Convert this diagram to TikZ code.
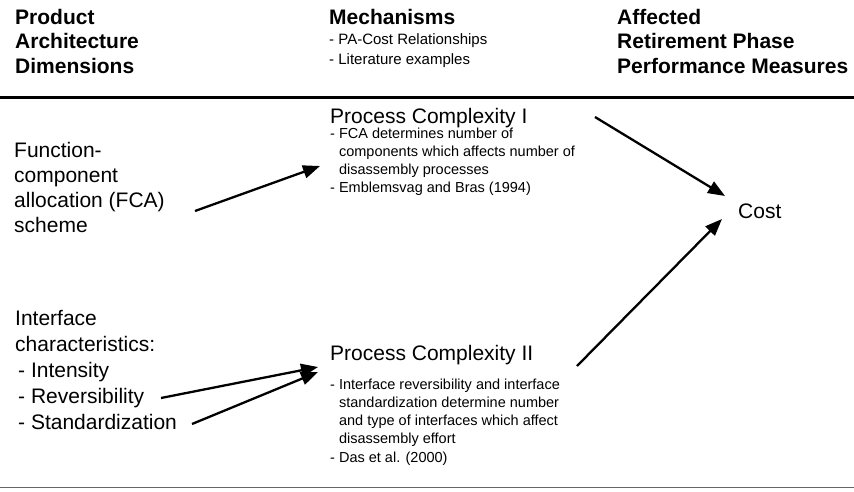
\documentclass[tikz,border=0pt]{standalone}
\usepackage{fontspec}
\setmainfont{Liberation Sans}
\usetikzlibrary{arrows.meta}

% multi-line text block whose reference point is the first baseline
\newcommand{\txtblock}[3]{\fontsize{#1}{#2}\selectfont\begin{tabular}[t]{@{}l@{}}#3\end{tabular}}
\newcommand{\hang}{\hphantom{- }}

\tikzset{
  head/.style={anchor=base west, inner sep=0pt, font=\bfseries},
  body/.style={anchor=base west, inner sep=0pt},
  link/.style={line width=2.3pt, -{Triangle[length=17pt,width=13pt]}},
  rule/.style={line width=2.4pt},
  thinrule/.style={line width=1pt, black!60}
}

\begin{document}
\begin{tikzpicture}[x=1pt, y=-1pt]
\useasboundingbox (0,0) rectangle (854,491);

% column headings
\node[head] (hpa) at (15,24) {\txtblock{21}{24.5}{Product\\Architecture\\Dimensions}};
\node[head] (hmech) at (329,24) {\txtblock{21}{24.5}{Mechanisms}};
\node[body] (hmechsub) at (329,44.5) {\txtblock{15}{19.5}{- PA-Cost Relationships\\- Literature examples}};
\node[head] (hperf) at (617,24) {\txtblock{21}{24.5}{Affected\\Retirement Phase\\Performance Measures}};

% horizontal rules
\coordinate (rtl) at (0,97.5);
\coordinate (rtr) at (854,97.5);
\draw[rule] (rtl) -- (rtr);
\coordinate (rbl) at (0,487.5);
\coordinate (rbr) at (854,487.5);
\draw[thinrule] (rbl) -- (rbr);

% product architecture dimensions
\node[body] (fca) at (14,157.5) {\txtblock{21}{25}{Function-\\component\\allocation (FCA)\\scheme}};
\node[body] (intf) at (15,325) {\txtblock{21}{26}{Interface\\characteristics:\\\hspace{3pt}- Intensity\\\hspace{3pt}- Reversibility\\\hspace{3pt}- Standardization}};

% mechanisms
\node[body] (pc1) at (330,123) {\txtblock{21}{25}{Process Complexity I}};
\node[body] (pc1txt) at (330,138) {\txtblock{14.5}{18.3}{- FCA determines number of\\\hang components which affects number of\\\hang disassembly processes\\- Emblemsvag and Bras (1994)}};
\node[body] (pc2) at (330,360) {\txtblock{21}{25}{Process Complexity II}};
\node[body] (pc2txt) at (330,389) {\txtblock{14.5}{18.3}{- Interface reversibility and interface\\\hang standardization determine number\\\hang and type of interfaces which affect\\\hang disassembly effort\\- Das et al. (2000)}};

% performance measure
\node[body] (cost) at (738,218) {\txtblock{21}{25}{Cost}};

% connector end points
\coordinate (fcaout) at (195,211);
\coordinate (pc1in) at (320,166);
\coordinate (revout) at (161,398);
\coordinate (stdout) at (192,424);
\coordinate (pc2inA) at (318,367);
\coordinate (pc2inB) at (318,372);
\coordinate (pc1out) at (595,117);
\coordinate (pc2out) at (577,366);
\coordinate (costinA) at (725,196);
\coordinate (costinB) at (722,219);

\draw[link] (fcaout) -- (pc1in);
\draw[link] (revout) -- (pc2inA);
\draw[link] (stdout) -- (pc2inB);
\draw[link] (pc1out) -- (costinA);
\draw[link] (pc2out) -- (costinB);
\end{tikzpicture}
\end{document}
